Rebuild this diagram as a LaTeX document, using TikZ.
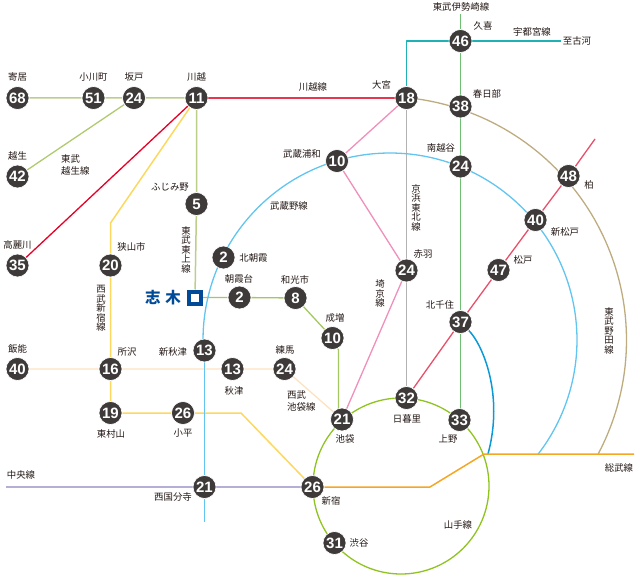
\documentclass[tikz,border=0pt]{standalone}
\usepackage{fontspec}
\setmainfont{Noto Sans CJK JP}
\newfontfamily\numfont{Liberation Sans}
\usetikzlibrary{backgrounds}
\definecolor{stn}{HTML}{3E3A39}
\definecolor{txt}{HTML}{231815}
\tikzset{
  stn/.style={circle,fill=stn,draw=white,line width=0.6pt,minimum size=23pt,inner sep=0pt,text=white,font=\numfont\bfseries\fontsize{15}{15}\selectfont},
  lbl/.style={text=txt,inner sep=0pt,font=\fontsize{9.4}{12}\selectfont},
  lbll/.style={lbl,align=left},
  vert/.style={text=txt,inner sep=0pt,align=center,font=\fontsize{9.4}{9.5}\selectfont},
  ln/.style={line width=1.3pt,line join=round},
  chuo/.style={ln,color={rgb,255:red,181;green,175;blue,216}},
  sobu/.style={ln,line width=1.5pt,color={rgb,255:red,245;green,166;blue,35}},
  muso/.style={ln,color={rgb,255:red,98;green,197;blue,240}},
  noda/.style={ln,color={rgb,255:red,190;green,172;blue,128}},
  tojo/.style={ln,line width=1.5pt,color={rgb,255:red,188;green,207;blue,138}},
  ogose/.style={ln,color={rgb,255:red,175;green,202;blue,111}},
  kawa/.style={ln,line width=1.5pt,color={rgb,255:red,232;green,54;blue,79}},
  koma/.style={ln,color={rgb,255:red,230;green,0;blue,38}},
  sei/.style={ln,line width=1.5pt,color={rgb,255:red,253;green,216;blue,94}},
  ike/.style={ln,color={rgb,255:red,253;green,226;blue,194}},
  yama/.style={ln,color={rgb,255:red,143;green,195;blue,31}},
  asaka/.style={ln,color={rgb,255:red,165;green,199;blue,97}},
  sai/.style={ln,color={rgb,255:red,240;green,143;blue,187}},
  keihin/.style={ln,color={rgb,255:red,178;green,178;blue,178}},
  ise/.style={ln,line width=1.7pt,color={rgb,255:red,111;green,191;blue,115}},
  utsu/.style={ln,line width=1.5pt,color={rgb,255:red,31;green,178;blue,181}},
  tsuku/.style={ln,color={rgb,255:red,232;green,80;blue,106}},
  chiyo/.style={ln,line width=1.5pt,color={rgb,255:red,10;green,154;blue,216}},
}
\begin{document}
\begin{tikzpicture}[x=1pt,y=-1pt]
\useasboundingbox (0,0) rectangle (640,580);
% stations
\node[stn] (a68) at (17.5,98) {68};
\node[stn] (a51) at (93.5,98) {51};
\node[stn] (a24) at (134,98) {24};
\node[stn] (a11) at (196.5,98) {11};
\node[stn] (a42) at (17.5,176.5) {42};
\node[stn] (a35) at (17.5,265.5) {35};
\node[stn] (a20) at (110.5,265.5) {20};
\node[stn] (a5) at (196.5,204) {5};
\node[stn] (kita) at (223.5,257.5) {2};
\node[stn] (asa) at (239.5,297.5) {2};
\node[stn] (a8) at (295.5,298) {8};
\node[stn] (nari) at (332.5,338) {10};
\node[stn] (nii) at (204.5,350.5) {13};
\node[stn] (han) at (17.5,369) {40};
\node[stn] (tok) at (110.5,369) {16};
\node[stn] (aki) at (232.5,369) {13};
\node[stn] (ner) at (284.5,369) {24};
\node[stn] (hig) at (110.5,413) {19};
\node[stn] (kod) at (183,413) {26};
\node[stn] (kok) at (204.5,487) {21};
\node[stn] (shj) at (312.5,487) {26};
\node[stn] (ikb) at (342,419.5) {21};
\node[stn] (nip) at (406.5,398) {32};
\node[stn] (ueno) at (459.5,420) {33};
\node[stn] (shb) at (334.5,543) {31};
\node[stn] (kts) at (460.5,322) {37};
\node[stn] (mat) at (498.5,270) {47};
\node[stn] (shm) at (535.5,220) {40};
\node[stn] (kas) at (568.5,176) {48};
\node[stn] (mina) at (460.5,166.5) {24};
\node[stn] (kasu) at (460.5,106.5) {38};
\node[stn] (kuk) at (460.5,41) {46};
\node[stn] (omi) at (406.5,98) {18};
\node[stn] (mur) at (337,161) {10};
\node[stn] (aka) at (406.5,270.5) {24};
% free ends
\coordinate (c1) at (6,487);
\coordinate (c2) at (430,487);
\coordinate (c3) at (484,454);
\coordinate (c4) at (634,454);
\coordinate (c5) at (110.5,223);
\coordinate (c6) at (241,413);
\coordinate (c7) at (338.5,350);
\coordinate (c16) at (338.5,412);
\coordinate (c8) at (406.5,41);
\coordinate (c9) at (561,41);
\coordinate (c10) at (460.5,14);
\coordinate (c11) at (595,139);
\coordinate (c12) at (204.5,522);
\coordinate (c13) at (204.5,340);
\coordinate (c14) at (488,454);
\coordinate (c15) at (460.5,412);
% Shiki
\node[draw={rgb,255:red,0;green,74;blue,151},line width=4pt,minimum size=12pt,inner sep=0pt,fill=white] (shiki) at (195,297.5) {};
\node[lbl,text={rgb,255:red,0;green,74;blue,151},font=\fontsize{15.5}{16}\selectfont\bfseries] (shikit) at (163,297.5) {志\hspace{5pt}木};
% lines
\begin{scope}[on background layer]
\draw[ike] (han) -- (tok) -- (aki) -- (ner) -- (ikb);
\draw[sei] (a11) -- (c5) -- (a20) -- (tok) -- (hig) -- (kod) -- (c6) -- (shj);
\draw[chuo] (c1) -- (kok) -- (shj);
\draw[tojo] (a68) -- (a51) -- (a24) -- (a11) -- (a5) -- (shiki);
\draw[ogose] (a24) -- (a42);
\draw[koma] (a11) -- (a35);
\draw[kawa] (a11) -- (omi);
\draw[utsu] (omi) -- (c8) -- (kuk) -- (c9);
\draw[ise] (c10) -- (kuk) -- (kasu) -- (mina) -- (kts) -- (c15);
\draw[keihin] (omi) -- (nip);
\draw[sai] (omi) -- (mur) -- (aka) -- (ikb);
\draw[asaka] (shiki) -- (asa) -- (a8) -- (nari) (nari) -- (c7) -- (c16);
\draw[tsuku] (c11) -- (kas) -- (shm) -- (mat) -- (kts) -- (nip);
\draw[muso] (c12) -- (c13);
\draw[muso] plot[domain=180:-37.5,samples=90,smooth] ({390+187*cos(\x)},{340-187*sin(\x)});
\draw[noda] plot[domain=84.5:-27.9,samples=60,smooth] ({383+243.5*cos(\x)},{340-243.5*sin(\x)});
\draw[yama] (401,486) circle[radius=88];
\draw[chiyo] (kts) .. controls (483,345) and (504,395) .. (c14);
\draw[sobu] (shj) -- (c2) -- (c3) -- (c4);
\end{scope}
% labels
\node[lbl] (l1) at (17.5,77) {寄居};
\node[lbl] (l2) at (93.5,77) {小川町};
\node[lbl] (l3) at (134,77) {坂戸};
\node[lbl] (l4) at (196.5,77) {川越};
\node[lbl] (l5) at (17.5,156) {越生};
\node[lbll,anchor=west] (l6) at (61,165) {東武\\越生線};
\node[lbl] (l7) at (170,187) {ふじみ野};
\node[lbl] (l8) at (289,206) {武蔵野線};
\node[lbl] (l9) at (313,87) {川越線};
\node[lbl] (l10) at (302,154) {武蔵浦和};
\node[lbl] (l11) at (17.5,245) {高麗川};
\node[lbl] (l12) at (131.5,247) {狭山市};
\node[lbl] (l13) at (253.5,257.5) {北朝霞};
\node[lbl] (l14) at (239,279) {朝霞台};
\node[lbl] (l15) at (295,280) {和光市};
\node[lbl] (l16) at (335,318) {成増};
\node[lbl] (l17) at (17.5,349) {飯能};
\node[lbl] (l18) at (127,351.5) {所沢};
\node[lbl] (l19) at (173,351.5) {新秋津};
\node[lbl] (l20) at (234,390.5) {秋津};
\node[lbl] (l21) at (285,350) {練馬};
\node[lbll,anchor=west] (l22) at (287,401) {西武\\池袋線};
\node[lbl] (l23) at (111,434) {東村山};
\node[lbl] (l24) at (183,433) {小平};
\node[lbl] (l25) at (21,475) {中央線};
\node[lbl] (l26) at (173,497) {西国分寺};
\node[lbl] (l27) at (331,501) {新宿};
\node[lbl] (l28) at (359,543) {渋谷};
\node[lbl] (l29) at (458,525) {山手線};
\node[lbl] (l30) at (345,438.5) {池袋};
\node[lbl] (l31) at (407,419) {日暮里};
\node[lbl] (l32) at (448,439) {上野};
\node[lbl] (l33) at (440,305) {北千住};
\node[lbl] (l34) at (619,468) {総武線};
\node[lbl] (l35) at (461,7) {東武伊勢崎線};
\node[lbl] (l36) at (483,26) {久喜};
\node[lbl] (l37) at (532,31.5) {宇都宮線};
\node[lbl] (l38) at (577,41) {至古河};
\node[lbl] (l39) at (381.5,85) {大宮};
\node[lbl] (l40) at (487,94) {春日部};
\node[lbl] (l41) at (441,148) {南越谷};
\node[lbl] (l42) at (589,185) {柏};
\node[lbl] (l43) at (565,232) {新松戸};
\node[lbl] (l44) at (523,260) {松戸};
\node[lbl] (l45) at (423,254) {赤羽};
\node[vert] (v1) at (186,249.5) {東\\武\\東\\上\\線};
\node[vert] (v2) at (101,308.5) {西\\武\\新\\宿\\線};
\node[vert] (v3) at (416,207.5) {京\\浜\\東\\北\\線};
\node[vert] (v4) at (380,293.5) {埼\\京\\線};
\node[vert] (v5) at (609,330.5) {東\\武\\野\\田\\線};
\end{tikzpicture}
\end{document}
